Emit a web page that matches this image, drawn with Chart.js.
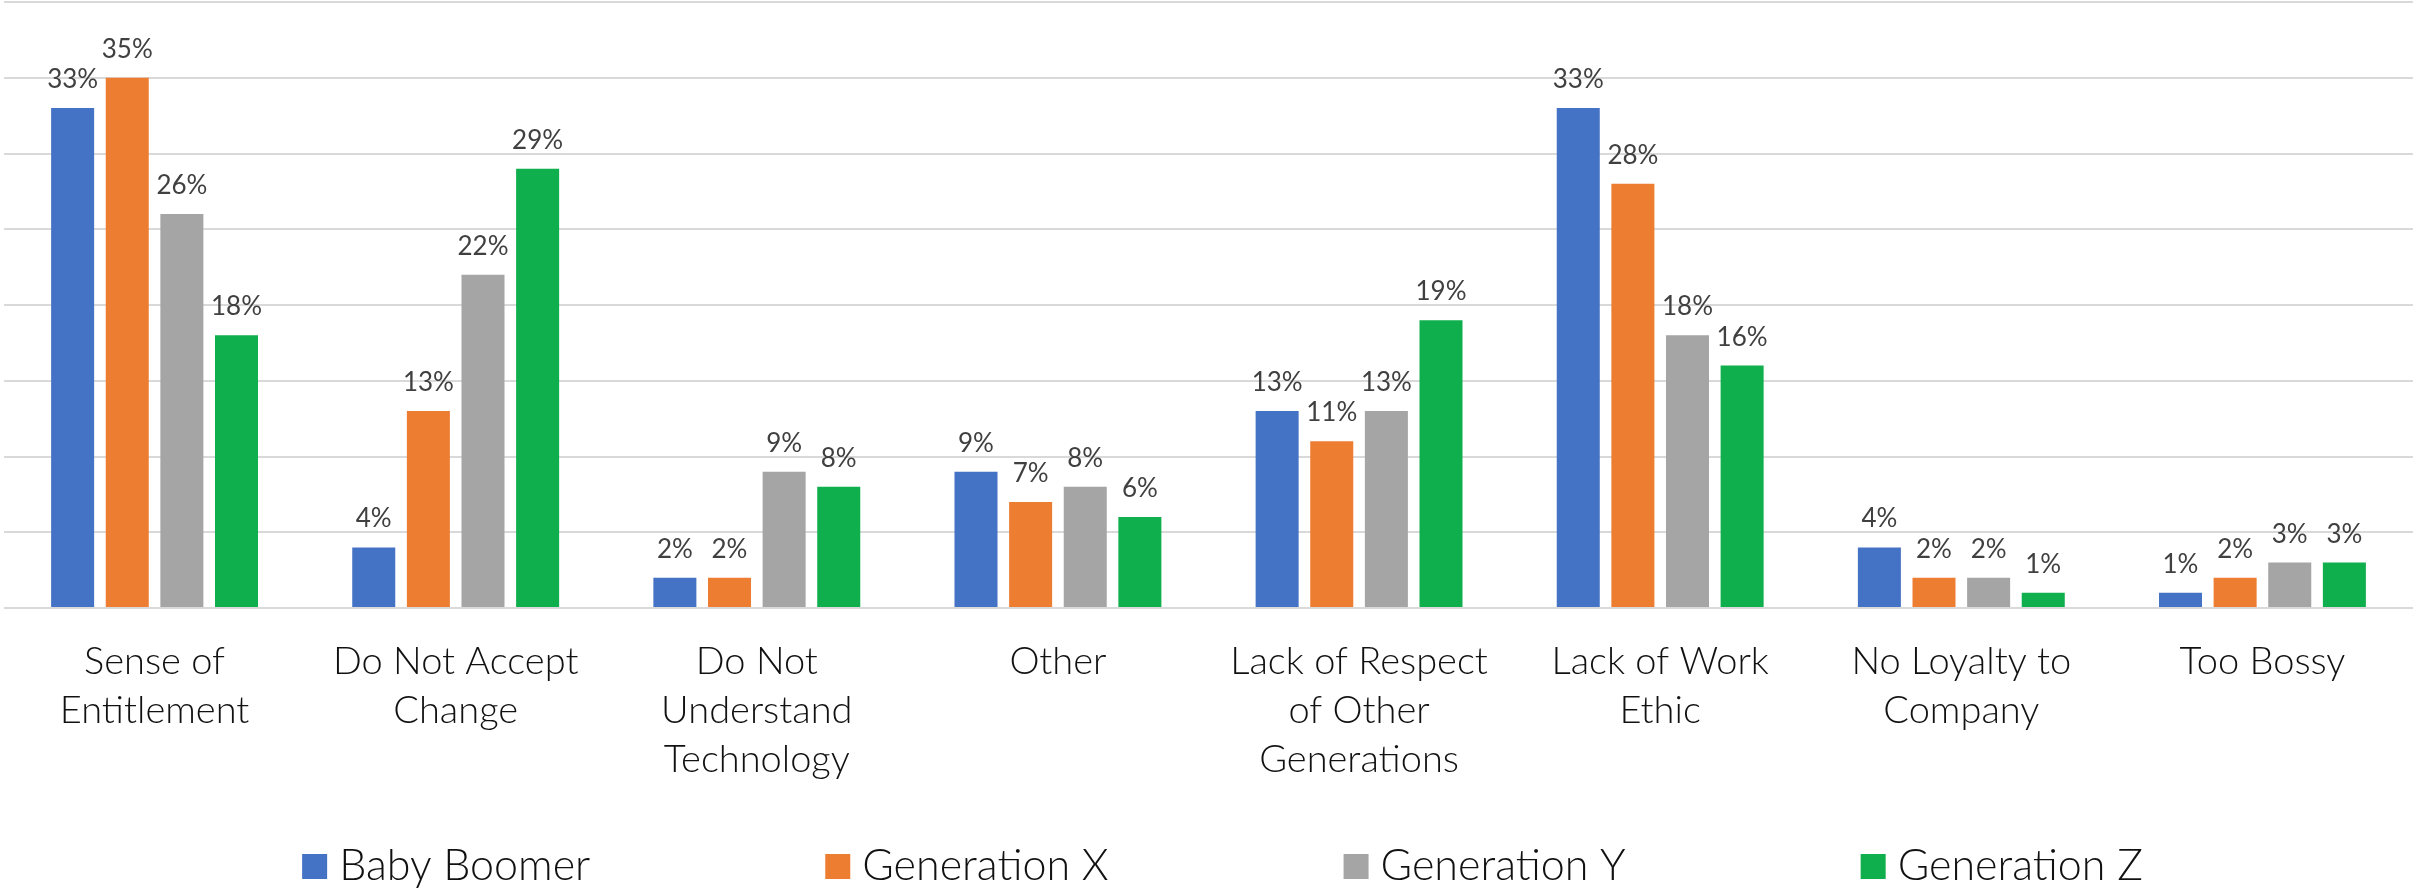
<!DOCTYPE html>
<html>
<head>
<meta charset="utf-8">
<title>Perceived generational traits</title>
<script src="https://cdn.jsdelivr.net/npm/chart.js@4/dist/chart.umd.min.js"></script>
<style>
  html, body { margin: 0; padding: 0; background: #ffffff; }
  #wrap { width: 2415px; height: 890px; position: relative; }
  canvas { display: block; }
</style>
</head>
<body>
<div id="wrap"><canvas id="chart" width="2415" height="890"></canvas></div>
<script>
// Categories (multi-line axis labels)
const categories = [
  ['Sense of', 'Entitlement'],
  ['Do Not Accept', 'Change'],
  ['Do Not', 'Understand', 'Technology'],
  ['Other'],
  ['Lack of Respect', 'of Other', 'Generations'],
  ['Lack of Work', 'Ethic'],
  ['No Loyalty to', 'Company'],
  ['Too Bossy']
];

// Series names
const seriesNames = ['Baby Boomer', 'Generation X', 'Generation Y', 'Generation Z'];

// Percent values per series
const babyBoomer  = [33, 4, 2, 9, 13, 33, 4, 1];
const generationX = [35, 13, 2, 7, 11, 28, 2, 2];
const generationY = [26, 22, 9, 8, 13, 18, 2, 3];
const generationZ = [18, 29, 8, 6, 19, 16, 1, 3];

const seriesColors = ['#4472C4', '#ED7D31', '#A5A5A5', '#0EAF4C'];

const FONT = "Lato, 'Open Sans', 'DejaVu Sans', sans-serif";

// Percent labels above each bar
const valueLabels = {
  id: 'valueLabels',
  afterDatasetsDraw(chart) {
    const ctx = chart.ctx;
    ctx.save();
    ctx.font = '400 26px ' + FONT;
    ctx.fillStyle = '#404040';
    ctx.textAlign = 'center';
    ctx.textBaseline = 'alphabetic';
    chart.data.datasets.forEach((ds, di) => {
      const meta = chart.getDatasetMeta(di);
      meta.data.forEach((bar, i) => {
        ctx.fillText(ds.data[i] + '%', bar.x, bar.y - 20);
      });
    });
    ctx.restore();
  }
};

// Legend row drawn under the axis labels
const bottomLegend = {
  id: 'bottomLegend',
  afterDraw(chart) {
    const ctx = chart.ctx;
    const box = 25, boxGap = 12, itemGap = 235;
    ctx.save();
    ctx.font = '300 43px ' + FONT;
    const widths = chart.data.datasets.map(ds => box + boxGap + ctx.measureText(ds.label).width);
    const total = widths.reduce((a, b) => a + b, 0) + itemGap * (widths.length - 1);
    const area = chart.chartArea;
    let x = (area.left + area.right) / 2 - total / 2 + 14;
    const boxTop = 854, textBase = 880;
    chart.data.datasets.forEach((ds, i) => {
      ctx.fillStyle = ds.backgroundColor;
      ctx.fillRect(x, boxTop, box, box);
      ctx.fillStyle = '#111111';
      ctx.textAlign = 'left';
      ctx.textBaseline = 'alphabetic';
      ctx.fillText(ds.label, x + box + boxGap, textBase);
      x += widths[i] + itemGap;
    });
    ctx.restore();
  }
};

const seriesData = [babyBoomer, generationX, generationY, generationZ];

new Chart(document.getElementById('chart'), {
  type: 'bar',
  data: {
    labels: categories,
    datasets: seriesNames.map((name, i) => ({
      label: name,
      data: seriesData[i],
      backgroundColor: seriesColors[i],
      borderWidth: 0,
      categoryPercentage: 0.7256,
      barPercentage: 0.7875
    }))
  },
  options: {
    responsive: false,
    animation: false,
    devicePixelRatio: 1,
    layout: { padding: { top: 2, left: 4, right: 2, bottom: 0 } },
    plugins: {
      legend: { display: false },
      tooltip: { enabled: false },
      title: { display: false }
    },
    scales: {
      x: {
        grid: { display: false },
        border: { display: false },
        ticks: {
          color: '#111111',
          font: { family: FONT, size: 38, weight: '300', lineHeight: 1.29 },
          padding: 21,
          maxRotation: 0,
          autoSkip: false
        },
        afterFit(scale) { scale.height = 282; }
      },
      y: {
        min: 0,
        max: 40,
        ticks: { display: false, stepSize: 5 },
        border: { display: false },
        grid: { color: '#D9D9D9', lineWidth: 2, drawTicks: false },
        afterFit(scale) { scale.width = 0; }
      }
    }
  },
  plugins: [valueLabels, bottomLegend]
});
</script>
</body>
</html>
